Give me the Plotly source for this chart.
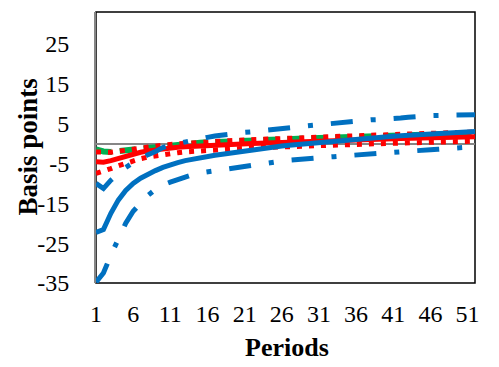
import plotly.graph_objects as go

periods = list(range(1, 53))
x_ticks = [1, 6, 11, 16, 21, 26, 31, 36, 41, 46, 51]
y_ticks = [-35, -25, -15, -5, 5, 15, 25]

blue_mean = [-22.3, -21.6, -17.5, -14.2, -11.8, -10.0, -8.7, -7.6, -6.8, -6.0,
             -5.3, -4.8, -4.3, -3.9, -3.55, -3.25, -2.95, -2.7, -2.4, -2.1,
             -1.85, -1.55, -1.3, -1.05, -0.82, -0.6, -0.42, -0.24, -0.06, 0.1,
             0.28, 0.45, 0.62, 0.8, 0.97, 1.13, 1.3, 1.43, 1.57, 1.7,
             1.83, 1.96, 2.08, 2.2, 2.3, 2.4, 2.5, 2.6, 2.7, 2.8,
             2.9, 3.0]
blue_upper = [-10.0, -11.3, -9.2, -7.5, -6.0, -4.8, -3.7, -2.8, -2.0, -1.0,
              -0.4, 0.05, 0.45, 0.8, 1.15, 1.55, 1.9, 2.2, 2.45, 2.65,
              2.8, 2.95, 3.1, 3.3, 3.5, 3.7, 3.9, 4.1, 4.35, 4.55,
              4.8, 5.0, 5.2, 5.4, 5.6, 5.75, 5.85, 5.95, 6.0, 6.05,
              6.2, 6.4, 6.6, 6.8, 6.9, 7.0, 7.05, 7.1, 7.1, 7.15,
              7.2, 7.2]
blue_lower = [-34.8, -32.5, -28.0, -24.0, -20.0, -17.0, -14.8, -13.0, -11.5, -10.4,
              -9.7, -9.0, -8.3, -7.8, -7.4, -7.1, -6.8, -6.5, -6.2, -5.9,
              -5.6, -5.4, -5.1, -4.8, -4.6, -4.4, -4.2, -4.0, -3.9, -3.8,
              -3.65, -3.5, -3.3, -3.15, -3.0, -2.8, -2.6, -2.5, -2.35, -2.2,
              -2.1, -2.0, -1.9, -1.8, -1.7, -1.55, -1.45, -1.3, -1.15, -1.0,
              -0.9, -0.8]
red_mean = [-4.6, -4.7, -4.3, -3.7, -3.1, -2.6, -2.2, -1.85, -1.55, -1.3,
            -1.1, -0.95, -0.8, -0.68, -0.57, -0.47, -0.38, -0.3, -0.22, -0.15,
            -0.08, -0.02, 0.04, 0.12, 0.2, 0.27, 0.35, 0.42, 0.49, 0.56,
            0.63, 0.69, 0.75, 0.81, 0.87, 0.92, 0.98, 1.03, 1.08, 1.13,
            1.18, 1.23, 1.28, 1.32, 1.37, 1.41, 1.46, 1.5, 1.55, 1.59,
            1.64, 1.68]
red_upper = [-2.1, -2.3, -2.2, -1.95, -1.65, -1.35, -1.1, -0.85, -0.6, -0.4,
             -0.22, -0.07, 0.07, 0.2, 0.32, 0.43, 0.53, 0.63, 0.72, 0.81,
             0.9, 0.98, 1.06, 1.13, 1.2, 1.27, 1.34, 1.41, 1.49, 1.56,
             1.63, 1.7, 1.76, 1.82, 1.89, 1.95, 2.01, 2.07, 2.14, 2.2,
             2.26, 2.32, 2.38, 2.44, 2.5, 2.55, 2.61, 2.67, 2.73, 2.79,
             2.85, 2.9]
red_lower = [-7.5, -7.0, -6.3, -5.6, -4.9, -4.3, -3.8, -3.4, -3.05, -2.75,
             -2.5, -2.3, -2.1, -1.95, -1.8, -1.67, -1.55, -1.45, -1.35, -1.26,
             -1.18, -1.1, -1.02, -0.95, -0.88, -0.81, -0.74, -0.67, -0.6, -0.54,
             -0.48, -0.42, -0.36, -0.3, -0.25, -0.2, -0.15, -0.1, -0.05, 0.0,
             0.05, 0.1, 0.15, 0.2, 0.25, 0.3, 0.35, 0.4, 0.45, 0.5,
             0.55, 0.6]
green_mean = [-1.5, -2.0, -2.1, -1.9, -1.6, -1.3, -1.05, -0.85, -0.65, -0.47,
              -0.3, -0.15, -0.02, 0.1, 0.2, 0.3, 0.4, 0.48, 0.56, 0.64,
              0.72, 0.8, 0.87, 0.94, 1.0, 1.07, 1.13, 1.2, 1.26, 1.32,
              1.38, 1.44, 1.5, 1.56, 1.62, 1.68, 1.74, 1.8, 1.86, 1.92,
              1.98, 2.04, 2.1, 2.16, 2.22, 2.28, 2.34, 2.4, 2.46, 2.52,
              2.58, 2.64]

BLUE = "#0070C0"
RED = "#FF0000"
GREEN = "#00B050"
GRAY = "#868686"
FONT = "Liberation Serif"

fig = go.Figure()
fig.add_trace(go.Scatter(x=periods, y=green_mean, mode="lines",
                         line=dict(color=GREEN, width=6, dash="16px,8px")))
fig.add_trace(go.Scatter(x=periods, y=red_upper, mode="lines",
                         line=dict(color=RED, width=5, dash="5px,7px")))
fig.add_trace(go.Scatter(x=periods, y=red_lower, mode="lines",
                         line=dict(color=RED, width=5, dash="5px,7px")))
fig.add_trace(go.Scatter(x=periods, y=red_mean, mode="lines",
                         line=dict(color=RED, width=5)))
fig.add_trace(go.Scatter(x=periods, y=blue_upper, mode="lines",
                         line=dict(color=BLUE, width=5, dash="22px,18px,5px,18px")))
fig.add_trace(go.Scatter(x=periods, y=blue_lower, mode="lines",
                         line=dict(color=BLUE, width=5, dash="22px,18px,5px,18px")))
fig.add_trace(go.Scatter(x=periods, y=blue_mean, mode="lines",
                         line=dict(color=BLUE, width=5)))

fig.update_layout(
    width=483, height=351,
    margin=dict(l=88, r=16, t=4, b=76),
    paper_bgcolor="white", plot_bgcolor="white",
    showlegend=False,
    font=dict(family=FONT, size=24, color="black"),
    shapes=[dict(type="rect", xref="paper", yref="paper", x0=0, x1=1, y0=0, y1=1,
                 line=dict(color="black", width=1.5), layer="below")],
    annotations=[
        dict(text="<b>Basis points</b>", xref="paper", yref="paper",
             x=-0.182, y=0.50, textangle=-90, showarrow=False,
             xanchor="center", yanchor="middle",
             font=dict(family=FONT, size=27, color="black")),
        dict(text="<b>Periods</b>", xref="paper", yref="paper",
             x=0.503, y=-0.238, showarrow=False,
             xanchor="center", yanchor="middle",
             font=dict(family=FONT, size=26, color="black")),
    ],
)
fig.update_xaxes(range=[1, 52], tickvals=x_ticks, ticktext=[str(v) for v in x_ticks],
                 showgrid=False, zeroline=False, showline=False,
                 ticks="", ticklabelstandoff=14,
                 tickfont=dict(family=FONT, size=24, color="black"))
fig.update_yaxes(range=[-35, 33], tickvals=y_ticks, ticktext=[str(v) for v in y_ticks],
                 showgrid=False, zeroline=True, zerolinecolor=GRAY, zerolinewidth=2,
                 showline=True, linecolor=GRAY, linewidth=2,
                 ticks="", ticklabelstandoff=20,
                 tickfont=dict(family=FONT, size=24, color="black"))

fig.write_html("out.html")
